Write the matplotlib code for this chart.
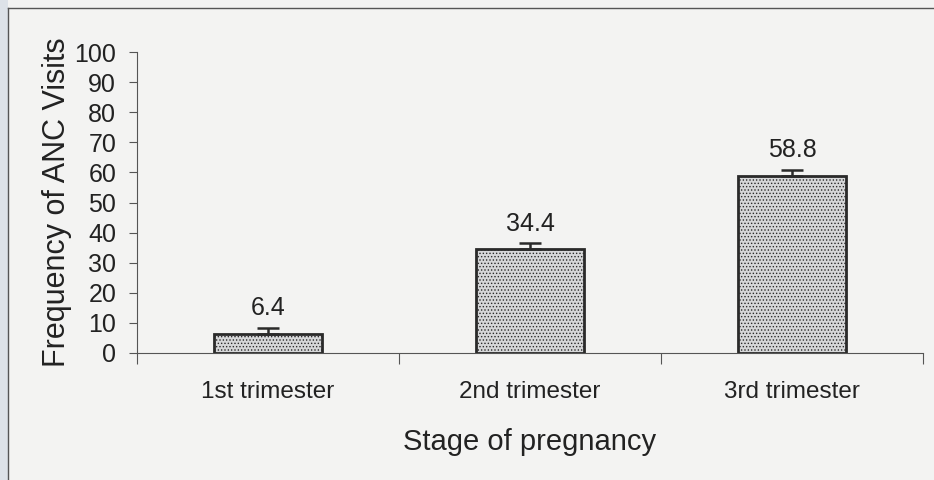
import matplotlib
matplotlib.use("Agg")
import matplotlib.pyplot as plt
from matplotlib.lines import Line2D
from matplotlib.patches import Rectangle
import numpy as np

plt.rcParams['font.family'] = ['Liberation Sans', 'DejaVu Sans']
plt.rcParams['hatch.color'] = '#b9b9bb'
plt.rcParams['hatch.linewidth'] = 0.6

# data
stages = ['1st trimester', '2nd trimester', '3rd trimester']
freq = [6.4, 34.4, 58.8]
err = [1.9, 2.0, 2.0]
yticks = list(range(0, 101, 10))

fig = plt.figure(figsize=(9.34, 4.80), dpi=100)
fig.patch.set_facecolor('#f3f3f2')

# scan edge + frame
fig.add_artist(Rectangle((0, 0), 8 / 934, 1, transform=fig.transFigure,
                         facecolor='#dde2e8', edgecolor='none'))
fig.add_artist(Line2D([8 / 934, 1], [1 - 8 / 480, 1 - 8 / 480],
                      transform=fig.transFigure, color='#555555', lw=1.0))
fig.add_artist(Line2D([8 / 934, 8 / 934], [0, 1 - 8 / 480],
                      transform=fig.transFigure, color='#555555', lw=1.0))

ax = fig.add_axes([137 / 934, 1 - 353 / 480, (923 - 137) / 934, (353 - 52) / 480])
ax.set_facecolor('none')

x = np.arange(len(stages))
ax.bar(x, freq, width=0.41, color='#d6d7d9', edgecolor='#2a2a2a', linewidth=2.0,
       hatch='.....', zorder=2)
ax.errorbar(x, freq, yerr=[np.zeros(len(err)), err], fmt='none', ecolor='#2a2a2a',
            elinewidth=1.8, capsize=8, capthick=1.8, zorder=3)

for xi, v, e in zip(x, freq, err):
    ax.text(xi, v + e + 2.5, f'{v}', ha='center', va='bottom', fontsize=18, color='#222222')

ax.set_xlim(-0.5, len(stages) - 0.5)
ax.set_ylim(0, 100)
ax.set_yticks(yticks)
ax.tick_params(axis='y', labelsize=18, length=6, width=0.8, colors='#555555',
               labelcolor='#222222', pad=9)

ax.set_xticks(x)
ax.set_xticklabels(stages)
ax.tick_params(axis='x', length=0, labelsize=17.5, labelcolor='#222222', pad=20)
ax.set_xticks(np.arange(-0.5, len(stages)), minor=True)
ax.tick_params(axis='x', which='minor', length=8, width=0.8, colors='#555555')

for s in ['top', 'right']:
    ax.spines[s].set_visible(False)
for s in ['left', 'bottom']:
    ax.spines[s].set_color('#555555')
    ax.spines[s].set_linewidth(0.8)

ax.set_xlabel('Stage of pregnancy', fontsize=21, color='#222222', labelpad=18)
ax.set_ylabel('Frequency of ANC Visits', fontsize=22, color='#222222', labelpad=2)

fig.savefig('out.png', dpi=100, facecolor=fig.get_facecolor())
